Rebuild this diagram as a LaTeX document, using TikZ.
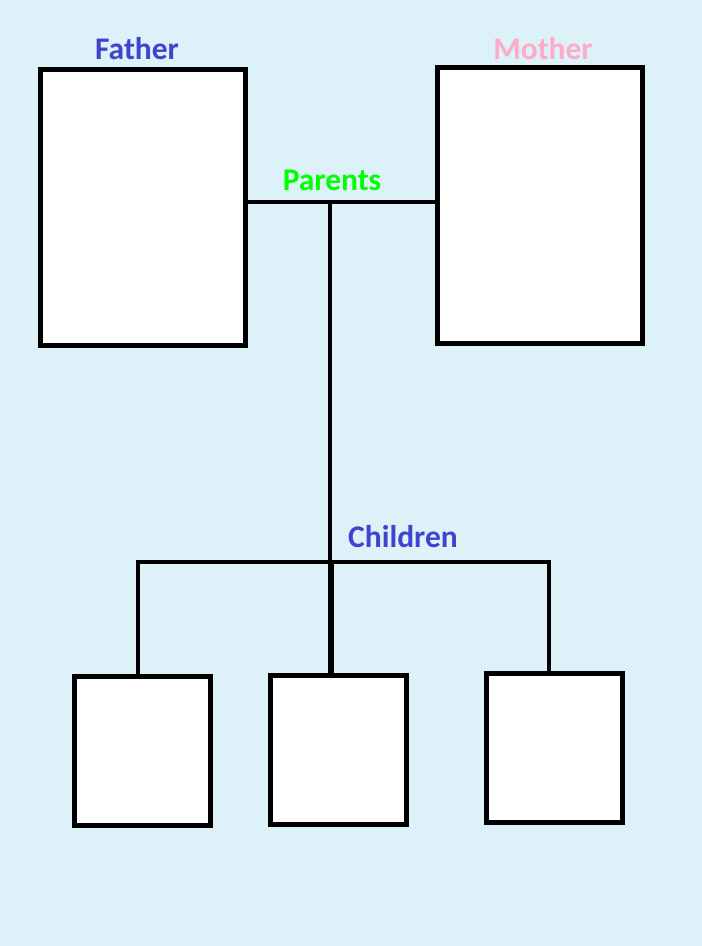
\documentclass[tikz,border=0pt]{standalone}
\usepackage{fontspec}
\setmainfont{Carlito}
\definecolor{skyback}{RGB}{220,241,248}
\definecolor{fatherblue}{RGB}{66,66,208}
\definecolor{motherpink}{RGB}{255,170,200}
\definecolor{parentgreen}{RGB}{0,255,0}
\tikzset{
  parentbox/.style={draw=black, fill=white, line width=5pt, inner sep=0pt,
    minimum width=205pt, minimum height=276pt},
  childbox/.style={draw=black, fill=white, line width=5pt, inner sep=0pt,
    minimum width=136pt, minimum height=149pt},
  link/.style={draw=black, line width=4pt},
  tag/.style={anchor=base, inner sep=0pt, font=\fontsize{31.5}{36}\selectfont\bfseries}
}
\begin{document}
\begin{tikzpicture}[x=1pt,y=-1pt]

% Background
\fill[skyback] (0,0) rectangle (702,946);
\useasboundingbox (0,0) rectangle (702,946);

% Draw the edges
\coordinate (hub) at (330,202);
\coordinate (split) at (331,562);
\coordinate (cl) at (138,562);
\coordinate (cr) at (549,562);

% Draw the boxes
\node[parentbox] (father) at (143,207) {};
\node[parentbox, minimum height=275.5pt] (mother) at (540,205.25) {};
\node[childbox] (child1) at (142.5,751) {};
\node[childbox] (child2) at (338.5,750) {};
\node[childbox] (child3) at (554.5,748) {};

% Draw the connectors
\draw[link] (father.east |- hub) -- (mother.west |- hub);
\draw[link] (hub) -- (hub |- split);
\draw[link] (cl |- child1.north) -- (cl) -- (cr) -- (cr |- child3.north);
\draw[link, line width=6pt] (split) -- (split |- child2.north);

% Draw the labels
\node[tag, text=fatherblue] (fatherlabel) at (137,59) {Father};
\node[tag, text=motherpink] (motherlabel) at (543,59) {Mother};
\node[tag, text=parentgreen] (parentslabel) at (332,190) {Parents};
\node[tag, text=fatherblue] (childrenlabel) at (403,547) {Children};

\end{tikzpicture}
\end{document}
